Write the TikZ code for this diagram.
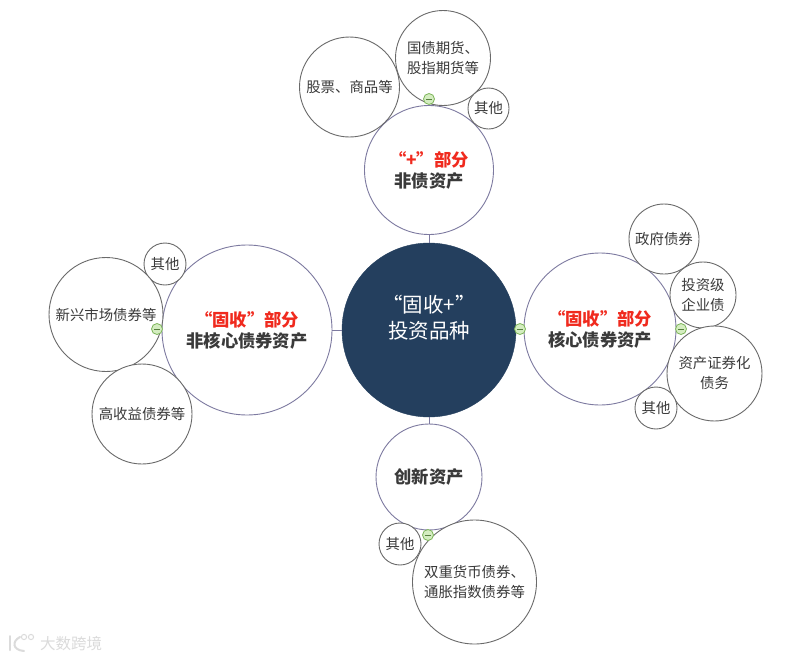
\documentclass[tikz,border=0pt]{standalone}
\usepackage{fontspec}
\setmainfont{Noto Sans CJK SC}
\definecolor{navy}{HTML}{243F5E}
\definecolor{ringmain}{HTML}{7D7AA0}
\definecolor{ringsub}{HTML}{6A6A6A}
\definecolor{inktxt}{HTML}{3A3A3A}
\definecolor{redtxt}{HTML}{F02A1E}
\definecolor{minusfill}{HTML}{D4EDC0}
\definecolor{minusring}{HTML}{7DB55A}
\tikzset{
  bub/.style={circle,inner sep=0pt,fill=white,align=center},
  mainbub/.style={bub,draw=ringmain,line width=0.9pt,font=\fontsize{17.3}{21}\selectfont\bfseries,text=inktxt},
  subbub/.style={bub,draw=ringsub,line width=0.9pt,font=\fontsize{14.4}{20}\selectfont,text=inktxt},
  hub/.style={circle,inner sep=0pt,fill=navy,draw=navy,align=center,text=white,font=\fontsize{20.5}{26}\selectfont},
  conn/.style={draw=ringmain,line width=0.9pt},
  minus/.pic={
    \draw[minusring,fill=minusfill,line width=0.8pt] (0,0) circle (5.5);
    \draw[minusring!70!black,line width=0.8pt] (-3.2,0) -- (3.2,0);
  },
  wmark/.style={inner sep=0pt,text=black!14,font=\fontsize{15.5}{16}\selectfont},
}
\newcommand{\redt}[1]{\textcolor{redtxt}{#1}}
\begin{document}
\begin{tikzpicture}[x=1pt,y=-1pt]
\useasboundingbox (0,0) rectangle (790,659);
\fill[white] (0,0) rectangle (790,659);
\node[hub,minimum size=174pt] (hub) at (429,330) {“固收+”\\投资品种\\\mbox{}};
\node[mainbub,minimum size=129pt] (top) at (429,170) {\redt{“+”部分}\\非债资产};
\node[mainbub,minimum size=152pt] (right) at (600,329) {\redt{“固收”部分}\\核心债券资产};
\node[mainbub,minimum size=170pt] (left) at (247,330) {\redt{“固收”部分}\\非核心债券资产};
\node[mainbub,minimum size=106pt] (bottom) at (429,477) {创新资产};
\draw[conn] (hub) -- (top);
\draw[conn] (hub) -- (right);
\draw[conn] (hub) -- (left);
\draw[conn] (hub) -- (bottom);
% top children
\node[subbub,minimum size=100pt] (stock) at (349.5,87) {股票、商品等};
\node[subbub,minimum size=95pt] (fut) at (443,58) {\raisebox{1pt}{国债期货、}\\\raisebox{1pt}{股指期货等}};
\node[subbub,minimum size=41pt] (topo) at (488.5,108.5) {其他};
% right children
\node[subbub,minimum size=70pt] (gov) at (664,239) {政府债券};
\node[subbub,minimum size=66pt] (ig) at (703,295) {投资级\\企业债};
\node[subbub,minimum size=95pt] (abs) at (714.5,373.5) {资产证券化\\债务};
\node[subbub,minimum size=42pt] (righto) at (656,408) {其他};
% left children
\node[subbub,minimum size=42pt] (lefto) at (165,264) {其他};
\node[subbub,minimum size=114pt] (em) at (106,314.5) {新兴市场债券等};
\node[subbub,minimum size=100pt] (hy) at (142,414) {高收益债券等};
% bottom children
\node[subbub,minimum size=42pt] (boto) at (400,544) {其他};
\node[subbub,minimum size=124pt] (dual) at (474.5,582) {双重货币债券、\\通胀指数债券等};
% collapse markers
\coordinate (mtop) at (429,99);
\coordinate (mhr) at (520,329);
\coordinate (mrr) at (681,329);
\coordinate (mleft) at (157,329);
\coordinate (mbot) at (428,535);
\draw[ringsub,line width=0.8pt] (mbot) -- (dual);
\foreach \m in {mtop,mhr,mrr,mleft,mbot} \path (\m) pic {minus};
% watermark
\draw[black!14,line width=2pt,line cap=round] (10,636) -- (10,650);
\draw[black!14,line width=2pt,line cap=round] (20,637) .. controls (12,641) and (12,650) .. (24,651);
\draw[black!14,line width=1pt] (24,637) circle (2.6);
\draw[black!14,line width=1pt] (31,637) circle (2.6);
\node[wmark,anchor=west] (wm) at (40,644) {大数跨境};
\end{tikzpicture}
\end{document}
